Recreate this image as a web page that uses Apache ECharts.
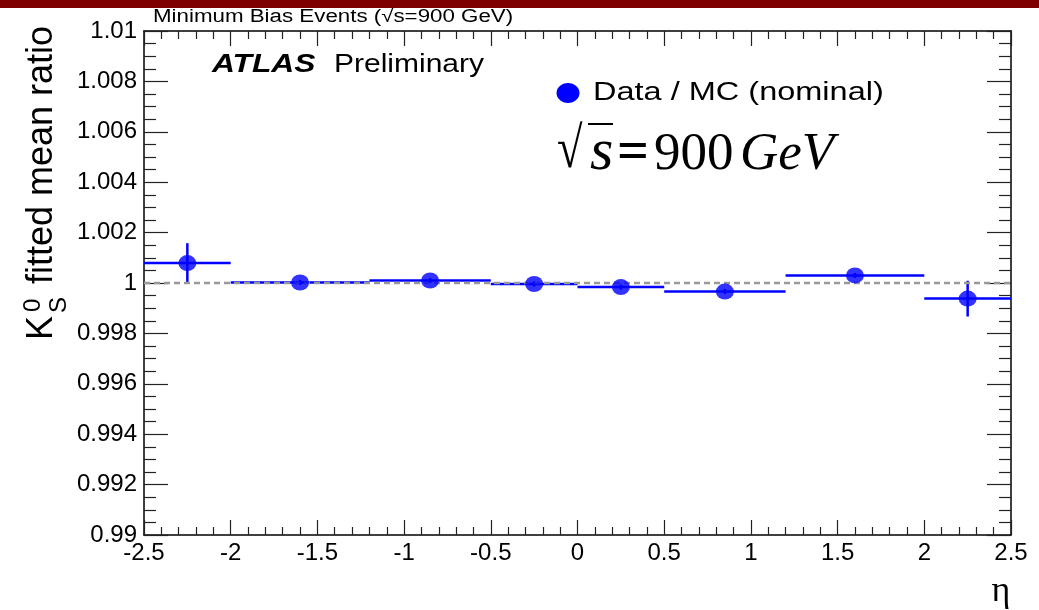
<!DOCTYPE html>
<html>
<head>
<meta charset="utf-8">
<title>K0S fitted mean ratio</title>
<script src="https://cdn.jsdelivr.net/npm/echarts@6.0.0/dist/echarts.min.js"></script>
<style>
  html, body { margin: 0; padding: 0; background: #fff; }
  #main { width: 1039px; height: 610px; }
</style>
</head>
<body>
<div id="main"></div>
<script>
// eta bins (edges) and measured Data/MC ratio per bin
var binLow = [-2.5, -2.0, -1.2, -0.5, 0.0, 0.5, 1.2, 2.0];
var binHigh = [-2.0, -1.2, -0.5, 0.0, 0.5, 1.2, 2.0, 2.5];
var etaCenter = [-2.25, -1.6, -0.85, -0.25, 0.25, 0.85, 1.6, 2.25];
var ratio = [1.00079, 1.00002, 1.0001, 0.99996, 0.99984, 0.99966, 1.0003, 0.99938];
var ratioErr = [0.00079, 0.0001, 0.0001, 0.0001, 0.0001, 0.0001, 0.0001, 0.00071];
var refLine = [[-2.5, 1], [2.5, 1]];

var blue = '#0000ff';
var sans = 'Liberation Sans, Arial, sans-serif';
var serif = 'Liberation Serif, Times New Roman, serif';

var errData = [];
var pointData = [];
for (var i = 0; i < ratio.length; i++) {
  errData.push([binLow[i], binHigh[i], etaCenter[i], ratio[i], ratioErr[i]]);
  pointData.push([etaCenter[i], ratio[i]]);
}

function renderErr(params, api) {
  var y = api.value(3), e = api.value(4);
  var lo = api.coord([api.value(0), y]);
  var hi = api.coord([api.value(1), y]);
  var top = api.coord([api.value(2), y + e]);
  var bot = api.coord([api.value(2), y - e]);
  var st = { stroke: blue, lineWidth: 2.5 };
  return {
    type: 'group',
    children: [
      { type: 'line', shape: { x1: lo[0], y1: lo[1], x2: hi[0], y2: hi[1] }, style: st },
      { type: 'line', shape: { x1: top[0], y1: top[1], x2: bot[0], y2: bot[1] }, style: st }
    ]
  };
}

function xAxisDef(pos, labels) {
  return {
    type: 'value', position: pos, min: -2.5, max: 2.5, interval: 0.5,
    axisLine: { show: true, onZero: false, lineStyle: { color: '#000', width: 1.5 } },
    axisTick: { show: true, inside: true, length: 15, lineStyle: { color: '#222', width: 1.2 } },
    minorTick: { show: true, splitNumber: 5, length: 8, lineStyle: { color: '#222', width: 1.2 } },
    axisLabel: { show: labels, color: '#000', fontSize: 24, fontFamily: sans, margin: 6 },
    splitLine: { show: false }
  };
}

function yAxisDef(pos, labels) {
  return {
    type: 'value', position: pos, min: 0.99, max: 1.01, interval: 0.002,
    axisLine: { show: true, onZero: false, lineStyle: { color: '#000', width: 1.5 } },
    axisTick: { show: true, inside: true, length: 24, lineStyle: { color: '#222', width: 1.2 } },
    minorTick: { show: true, splitNumber: 4, length: 12, lineStyle: { color: '#222', width: 1.2 } },
    axisLabel: { show: labels, color: '#000', fontSize: 24, fontFamily: sans, margin: 7 },
    splitLine: { show: false }
  };
}

var chart = echarts.init(document.getElementById('main'));
chart.setOption({
  animation: false,
  backgroundColor: '#fff',
  grid: { left: 144, right: 28, top: 31, bottom: 75 },
  xAxis: [xAxisDef('bottom', true), xAxisDef('top', false)],
  yAxis: [yAxisDef('left', true), yAxisDef('right', false)],
  series: [
    {
      type: 'custom', renderItem: renderErr, data: errData, z: 2,
      encode: { x: [0, 1, 2], y: [3] }
    },
    {
      type: 'line', data: refLine, symbol: 'none', z: 3,
      lineStyle: { color: '#999999', width: 2.5, type: [6, 4] }
    },
    {
      type: 'scatter', data: pointData, symbol: 'circle', symbolSize: [18, 16], z: 4,
      itemStyle: { color: blue }
    }
  ],
  graphic: [
    { type: 'rect', shape: { x: 0, y: 0, width: 1039, height: 8 }, style: { fill: '#7f0000' } },
    { type: 'text', x: 153, y: 17, scaleX: 1.24,
      style: { text: 'Minimum Bias Events (\u221As=900 GeV)', font: '18px ' + sans, fill: '#000', textAlign: 'left', textVerticalAlign: 'middle' } },
    { type: 'text', x: 212, y: 65, scaleX: 1.27,
      style: { text: 'ATLAS', font: 'italic bold 25px ' + sans, fill: '#000', textAlign: 'left', textVerticalAlign: 'middle' } },
    { type: 'text', x: 334, y: 65, scaleX: 1.2,
      style: { text: 'Preliminary', font: '25px ' + sans, fill: '#000', textAlign: 'left', textVerticalAlign: 'middle' } },
    { type: 'ellipse', shape: { cx: 568, cy: 93, rx: 11.5, ry: 10 }, style: { fill: blue } },
    { type: 'text', x: 593, y: 93, scaleX: 1.25,
      style: { text: 'Data / MC (nominal)', font: '26px ' + sans, fill: '#000', textAlign: 'left', textVerticalAlign: 'middle' } },
    { type: 'text', x: 557, y: 152, scaleX: 0.8,
      style: { text: '\u221A', font: '58px ' + serif, fill: '#000', textAlign: 'left', textVerticalAlign: 'middle' } },
    { type: 'line', shape: { x1: 588, y1: 124, x2: 613, y2: 124 }, style: { stroke: '#000', lineWidth: 2 } },
    { type: 'text', x: 590, y: 153,
      style: { text: 's', font: 'italic 60px ' + serif, fill: '#000', textAlign: 'left', textVerticalAlign: 'middle' } },
    { type: 'text', x: 617, y: 155,
      style: { text: '=', font: 'bold 56px ' + serif, fill: '#000', textAlign: 'left', textVerticalAlign: 'middle' } },
    { type: 'text', x: 654, y: 155,
      style: { text: '900', font: '53px ' + serif, fill: '#000', textAlign: 'left', textVerticalAlign: 'middle' } },
    { type: 'text', x: 740, y: 155,
      style: { text: 'GeV', font: 'italic 53px ' + serif, fill: '#000', textAlign: 'left', textVerticalAlign: 'middle' } },
    { type: 'text', x: 1001, y: 592,
      style: { text: '\u03B7', font: '36px ' + serif, fill: '#000', textAlign: 'center', textVerticalAlign: 'middle' } },
    {
      type: 'group', x: 42, y: 340, rotation: Math.PI / 2,
      children: [
        { type: 'text', style: { text: 'K', x: 0, y: 0, font: '36px ' + sans, fill: '#000', textAlign: 'left', textVerticalAlign: 'middle' } },
        { type: 'text', style: { text: '0', x: 28, y: -9, font: '24px ' + sans, fill: '#000', textAlign: 'left', textVerticalAlign: 'middle' } },
        { type: 'text', style: { text: 'S', x: 27, y: 17, font: '24px ' + sans, fill: '#000', textAlign: 'left', textVerticalAlign: 'middle' } },
        { type: 'text', style: { text: 'fitted mean ratio', x: 56, y: 0, font: '36px ' + sans, fill: '#000', textAlign: 'left', textVerticalAlign: 'middle' } }
      ]
    }
  ]
});
</script>
</body>
</html>
